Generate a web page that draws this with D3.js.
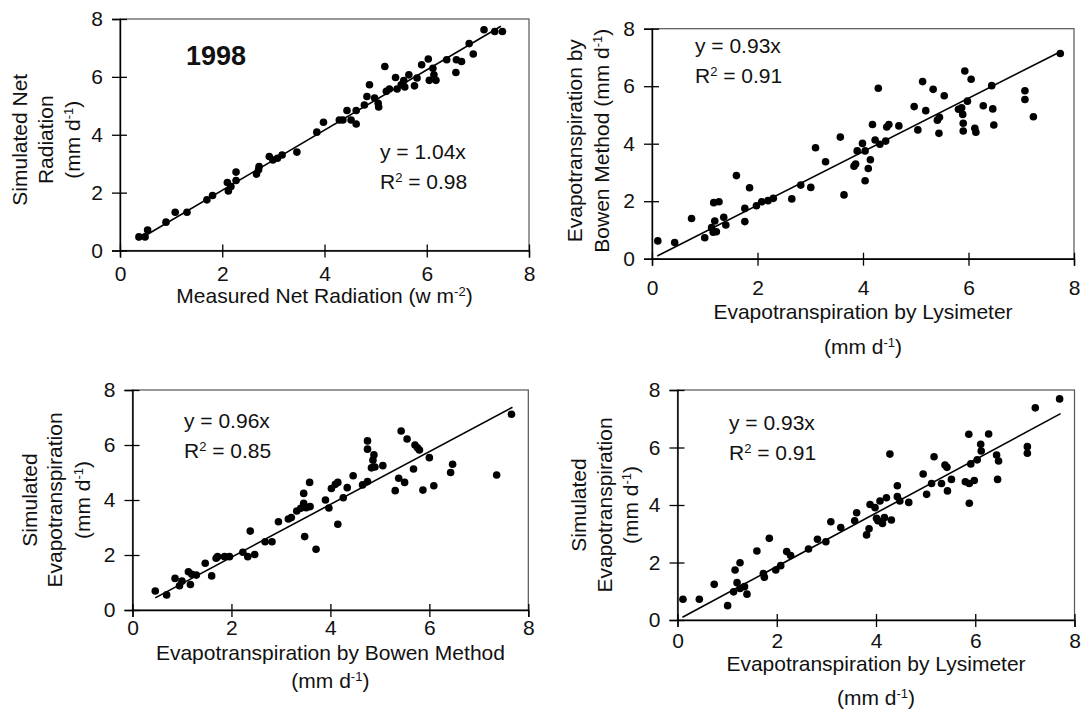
<!DOCTYPE html>
<html>
<head>
<meta charset="utf-8">
<script src="https://cdn.jsdelivr.net/npm/d3@7"></script>
<style>
  body { margin: 0; background: #fff; }
  text { font-family: Arial, "Liberation Sans", Helvetica, sans-serif; fill: #111; }
</style>
</head>
<body>
<div id="chart"></div>
<script>

// ---- data (x, y) in mm/d ----
var ticks = [0, 2, 4, 6, 8];

var netRadiation = [
    [0.37,0.47],[0.49,0.47],[0.54,0.71],[0.90,0.98],[1.08,1.32],[1.31,1.32],[1.70,1.75],[1.81,1.90],
    [2.10,2.35],[2.12,2.06],[2.17,2.21],[2.27,2.42],[2.27,2.71],[2.67,2.64],[2.71,2.79],[2.72,2.90],
    [2.92,3.25],[2.99,3.13],[3.08,3.19],[3.17,3.30],[3.46,3.40],[3.85,4.09],[3.98,4.43],[4.29,4.51],
    [4.36,4.51],[4.44,4.84],[4.52,4.51],[4.62,4.84],[4.62,4.37],[4.78,5.03],[4.83,5.32],[4.88,5.73],
    [4.98,5.27],[5.05,5.09],[5.06,4.96],[5.18,6.36],[5.21,5.50],[5.27,5.58],[5.39,5.98],[5.42,5.58],
    [5.50,5.73],[5.57,5.65],[5.55,5.87],[5.65,6.07],[5.76,5.69],[5.81,5.96],[5.90,6.42],[6.03,6.62],
    [6.05,5.88],[6.12,6.30],[6.14,6.07],[6.18,5.88],[6.39,6.59],[6.58,6.59],[6.68,6.53],[6.57,6.15],
    [6.83,7.15],[6.91,6.79],[7.12,7.63],[7.33,7.57],[7.48,7.57]
];

var bowenVsLysimeter = [
    [0.11,0.62],[0.43,0.56],[0.75,1.40],[1.00,0.73],[1.13,1.08],[1.16,0.92],[1.19,1.31],[1.17,1.95],
    [1.27,1.98],[1.22,0.94],[1.36,1.44],[1.40,1.17],[1.60,2.89],[1.76,1.75],[1.76,1.29],[1.85,2.47],
    [1.98,1.84],[2.08,1.98],[2.20,2.02],[2.30,2.10],[2.65,2.08],[2.82,2.56],[3.01,2.48],[3.10,3.86],
    [3.29,3.37],[3.57,4.23],[3.64,2.22],[3.83,3.22],[3.86,3.29],[3.99,4.01],[3.89,3.75],[4.04,3.75],
    [4.10,3.14],[4.04,2.71],[4.14,3.44],[4.18,4.67],[4.23,4.13],[4.29,5.93],[4.32,3.98],[4.43,4.09],
    [4.45,4.58],[4.49,4.67],[4.68,4.62],[4.97,5.29],[5.04,4.48],[5.13,6.16],[5.19,5.15],[5.33,5.89],
    [5.41,4.82],[5.45,4.92],[5.44,4.36],[5.54,5.67],[5.81,5.20],[5.87,5.25],[5.89,5.02],[5.90,4.71],
    [5.90,4.44],[5.93,6.53],[5.98,5.48],[6.05,6.24],[6.12,4.54],[6.14,4.40],[6.28,5.32],[6.44,6.02],
    [6.46,5.21],[6.48,4.65],[7.07,5.84],[7.07,5.54],[7.23,4.94],[7.74,7.14]
];

var simVsBowen = [
    [0.46,0.69],[0.69,0.55],[0.86,1.15],[0.95,0.88],[1.00,1.05],[1.13,1.39],[1.17,0.93],[1.20,1.30],
    [1.29,1.27],[1.47,1.70],[1.60,1.24],[1.69,1.88],[1.72,1.94],[1.86,1.94],[1.96,1.94],[2.23,2.10],
    [2.33,1.94],[2.38,2.87],[2.47,2.02],[2.68,2.48],[2.82,2.48],[2.95,3.21],[3.15,3.31],[3.21,3.36],
    [3.32,3.60],[3.40,3.70],[3.46,4.24],[3.46,3.88],[3.48,2.67],[3.51,3.72],[3.58,4.64],[3.59,3.76],
    [3.71,2.21],[3.90,4.00],[3.97,3.71],[4.02,4.42],[4.10,4.57],[4.15,4.64],[4.15,3.12],[4.26,4.08],
    [4.34,4.45],[4.46,4.88],[4.65,4.55],[4.75,4.67],[4.75,6.15],[4.75,5.85],[4.83,5.17],[4.86,5.45],
    [4.88,5.64],[4.90,5.20],[5.06,5.25],[5.31,4.34],[5.38,4.79],[5.43,6.51],[5.50,4.64],[5.55,6.22],
    [5.68,5.13],[5.71,6.00],[5.76,5.90],[5.80,5.82],[5.87,4.36],[6.00,5.54],[6.09,4.52],[6.43,5.00],
    [6.47,5.30],[7.36,4.91],[7.66,7.12]
];

var simVsLysimeter = [
    [0.11,0.72],[0.44,0.72],[0.74,1.24],[1.01,0.50],[1.13,0.98],[1.16,1.74],[1.20,1.30],[1.26,1.99],
    [1.26,1.10],[1.35,1.16],[1.40,0.90],[1.60,2.40],[1.73,1.62],[1.75,1.49],[1.85,2.84],[1.98,1.74],
    [2.08,1.89],[2.20,2.38],[2.28,2.24],[2.64,2.47],[2.82,2.81],[2.99,2.72],[3.09,3.42],[3.29,3.22],
    [3.57,3.45],[3.61,3.73],[3.81,2.96],[3.86,3.17],[3.88,4.02],[3.98,3.91],[4.01,3.54],[4.04,3.45],
    [4.08,4.14],[4.13,3.36],[4.17,3.56],[4.21,4.25],[4.28,5.77],[4.31,3.48],[4.43,4.67],[4.43,4.29],
    [4.48,4.14],[4.66,4.09],[4.95,5.08],[5.02,4.37],[5.12,4.75],[5.17,5.68],[5.32,4.75],[5.39,5.39],
    [5.43,5.31],[5.44,4.49],[5.52,4.89],[5.80,4.81],[5.87,6.46],[5.88,4.75],[5.88,4.06],[5.91,5.43],
    [5.98,4.85],[6.04,5.57],[6.11,6.11],[6.12,5.88],[6.27,6.47],[6.43,5.74],[6.45,4.89],[6.47,5.53],
    [7.05,6.03],[7.05,5.80],[7.21,7.38],[7.70,7.69]
];

// regression through origin: slope, R2, fitted x range
var slopes = [1.04, 0.93, 0.96, 0.93];
var rSquared = ["0.98", "0.91", "0.85", "0.91"];
var fitRange = [[0.35, 7.45], [0.1, 7.75], [0.46, 7.68], [0.1, 7.72]];

var svg = d3.select("#chart").append("svg")
    .attr("width", 1083)
    .attr("height", 719);

var FS = 21;

// write text made of [string, isSuperscript] pieces
function richText(sel, parts) {
    parts.forEach(function (p) {
        var t = sel.append("tspan").text(p[0]);
        if (p[1]) t.attr("font-size", FS * 0.62).attr("baseline-shift", "super");
    });
}

var mmd = [["(mm d"], ["-1", true], [")"]];

function drawPanel(cfg) {
    var x = d3.scaleLinear().domain([0, 8]).range([cfg.left, cfg.right]);
    var y = d3.scaleLinear().domain([0, 8]).range([cfg.bottom, cfg.top]);
    var g = svg.append("g");

    // frame (top / right)
    g.append("rect")
        .attr("x", cfg.left).attr("y", cfg.top)
        .attr("width", cfg.right - cfg.left).attr("height", cfg.bottom - cfg.top)
        .attr("fill", "none").attr("stroke", "#555").attr("stroke-width", 1.2);

    var xAxis = g.append("g")
        .attr("transform", "translate(0," + cfg.bottom + ")")
        .call(d3.axisBottom(x).tickValues(ticks).tickSizeOuter(0).tickSize(7).tickPadding(cfg.xPad));
    xAxis.selectAll(".tick line").attr("y1", -6);

    var yAxis = g.append("g")
        .attr("transform", "translate(" + cfg.left + ",0)")
        .call(d3.axisLeft(y).tickValues(ticks).tickSizeOuter(0).tickSize(8).tickPadding(9));
    yAxis.selectAll(".tick line").attr("x1", 7);

    [xAxis, yAxis].forEach(function (a) {
        a.select(".domain").attr("stroke", "#000").attr("stroke-width", 1.4);
        a.selectAll(".tick line").attr("stroke", "#000").attr("stroke-width", 1.3);
        a.selectAll(".tick text").attr("font-size", FS).attr("font-family", "Arial, 'Liberation Sans', sans-serif").attr("fill", "#111");
    });

    // fitted line
    var fr = fitRange[cfg.i];
    g.append("line")
        .attr("x1", x(fr[0])).attr("y1", y(fr[0] * slopes[cfg.i]))
        .attr("x2", x(fr[1])).attr("y2", y(fr[1] * slopes[cfg.i]))
        .attr("stroke", "#000").attr("stroke-width", 1.6);

    g.selectAll(".dot")
        .data(cfg.data)
        .enter().append("circle")
        .attr("class", "dot")
        .attr("cx", function (d) { return x(d[0]); })
        .attr("cy", function (d) { return y(d[1]); })
        .attr("r", 3.8)
        .attr("fill", "#000");

    // equation
    g.append("text").attr("x", cfg.eqX).attr("y", cfg.eqY).attr("font-size", FS)
        .text("y = " + slopes[cfg.i].toFixed(2) + "x");
    richText(g.append("text").attr("x", cfg.eqX).attr("y", cfg.eqY + 30).attr("font-size", FS),
        [["R"], ["2", true], [" = " + rSquared[cfg.i]]]);

    // x title
    cfg.xTitle.forEach(function (line, k) {
        richText(g.append("text")
            .attr("x", (cfg.left + cfg.right) / 2)
            .attr("y", cfg.xTitleY[k])
            .attr("text-anchor", "middle")
            .attr("font-size", FS), line);
    });

    // y title (rotated)
    var cy = (cfg.top + cfg.bottom) / 2 + cfg.yTitleShift;
    cfg.yTitle.forEach(function (line, k) {
        richText(g.append("text")
            .attr("transform", "translate(" + cfg.yTitleX[k] + "," + cy + ") rotate(-90)")
            .attr("text-anchor", "middle")
            .attr("font-size", FS), line);
    });
}

drawPanel({
    i: 0, data: netRadiation,
    left: 120, right: 529, top: 19, bottom: 250.5, xPad: 9,
    eqX: 380, eqY: 159,
    xTitle: [[["Measured Net Radiation (w m"], ["-2", true], [")"]]],
    xTitleY: [303],
    yTitle: [[["Simulated Net"]], [["Radiation"]], mmd],
    yTitleX: [27, 53, 80], yTitleShift: 5
});

drawPanel({
    i: 1, data: bowenVsLysimeter,
    left: 652, right: 1074, top: 28.7, bottom: 258.7, xPad: 14,
    eqX: 695, eqY: 53,
    xTitle: [[["Evapotranspiration by Lysimeter"]], mmd],
    xTitleY: [319, 354],
    yTitle: [[["Evapotranspiration by"]], [["Bowen Method "], ["(mm d"], ["-1", true], [")"]]],
    yTitleX: [582, 609], yTitleShift: -3
});

drawPanel({
    i: 2, data: simVsBowen,
    left: 132.5, right: 528.3, top: 390, bottom: 610, xPad: 3,
    eqX: 184, eqY: 428,
    xTitle: [[["Evapotranspiration by Bowen Method"]], mmd],
    xTitleY: [660, 688],
    yTitle: [[["Simulated"]], [["Evapotranspiration"]], mmd],
    yTitleX: [37, 62, 90], yTitleShift: 0
});

drawPanel({
    i: 3, data: simVsLysimeter,
    left: 677.5, right: 1074.5, top: 390, bottom: 620, xPad: 6,
    eqX: 729, eqY: 430,
    xTitle: [[["Evapotranspiration by Lysimeter"]], mmd],
    xTitleY: [671, 705],
    yTitle: [[["Simulated"]], [["Evapotranspiration"]], mmd],
    yTitleX: [586, 612, 638], yTitleShift: 0
});

// year tag
svg.append("text")
    .attr("x", 186).attr("y", 65)
    .attr("font-size", 27).attr("font-weight", "bold")
    .text("1998");

</script>
</body>
</html>
